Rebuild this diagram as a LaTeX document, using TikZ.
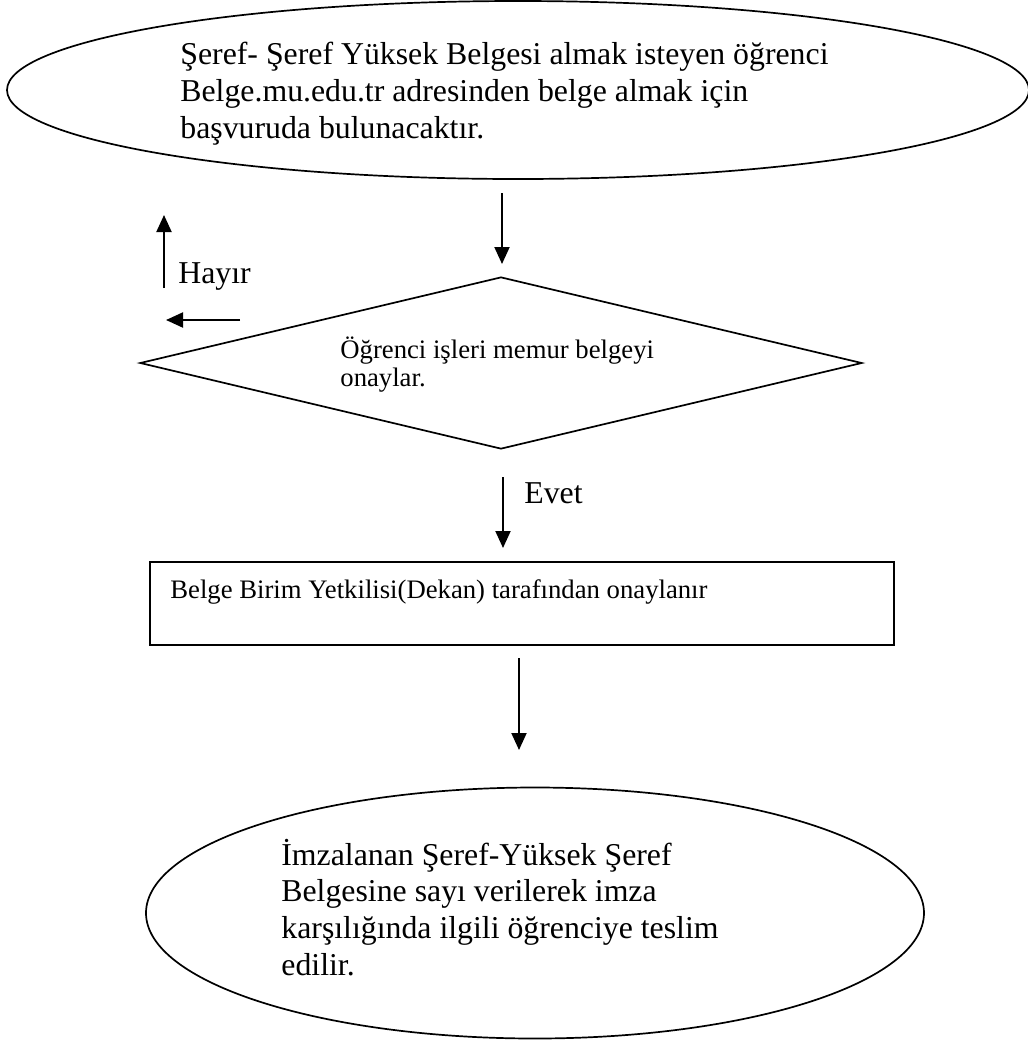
\documentclass[tikz,border=0pt]{standalone}
\usepackage{fontspec}
\setmainfont{Liberation Serif}
\usetikzlibrary{arrows.meta,shapes.geometric}
\tikzset{
	outline/.style={draw, line width=0.85pt, inner sep=0pt},
	flowarr/.style={line width=1pt, -{Triangle[length=8.5pt,width=7.5pt]}},
	bigtext/.style={font=\fontsize{15.9}{18.3}\selectfont, align=left, anchor=base west, inner sep=0pt},
	smalltext/.style={font=\fontsize{13.35}{14}\selectfont, align=left, anchor=base west, inner sep=0pt}
}

\begin{document}
\begin{tikzpicture}[x=0.5pt, y=-0.5pt]
			%%%%% START %%%%%
			\useasboundingbox (0, 0) rectangle (1028, 1046);
			
			% texts are placed by the baseline of their last line
			\node[outline, ellipse, minimum width=511pt, minimum height=89pt] (basvuru) at (518, 90) {};
			\node[bigtext] (basvurutxt) at (180, 138) {Şeref- Şeref Yüksek Belgesi almak isteyen öğrenci\\Belge.mu.edu.tr adresinden belge almak için\\başvuruda bulunacaktır.};
			
			\node[outline, diamond, minimum width=361pt, minimum height=86pt] (memur) at (501, 363) {};
			\node[smalltext] (memurtxt) at (340, 386) {Öğrenci işleri memur belgeyi\\onaylar.};
			
			\node[outline, rectangle, minimum width=372pt, minimum height=41.5pt] (dekan) at (522, 603.5) {};
			\node[smalltext] (dekantxt) at (170, 598) {Belge Birim Yetkilisi(Dekan) tarafından onaylanır};
			
			\node[outline, ellipse, minimum width=389pt, minimum height=125.5pt] (teslim) at (535, 913) {};
			\node[bigtext] (teslimtxt) at (281, 975) {İmzalanan Şeref-Yüksek Şeref\\Belgesine sayı verilerek imza\\karşılığında ilgili öğrenciye teslim\\edilir.};
			
			\node[bigtext] (hayir) at (178, 283) {Hayır};
			\node[bigtext] (evet) at (524, 503) {Evet};
			
			\coordinate (a1) at (502, 193);
			\coordinate (a2) at (502, 264);
			\coordinate (h1) at (164, 288);
			\coordinate (h2) at (164, 215);
			\coordinate (l1) at (240, 320);
			\coordinate (l2) at (166, 320);
			\coordinate (e1) at (503, 477);
			\coordinate (e2) at (503, 548);
			\coordinate (d1) at (519, 658);
			\coordinate (d2) at (519, 750);
			
			\draw[flowarr] (a1) -- (a2);
			\draw[flowarr] (h1) -- (h2);
			\draw[flowarr] (l1) -- (l2);
			\draw[flowarr] (e1) -- (e2);
			\draw[flowarr] (d1) -- (d2);
			%%%%% END %%%%%
\end{tikzpicture}
\end{document}
